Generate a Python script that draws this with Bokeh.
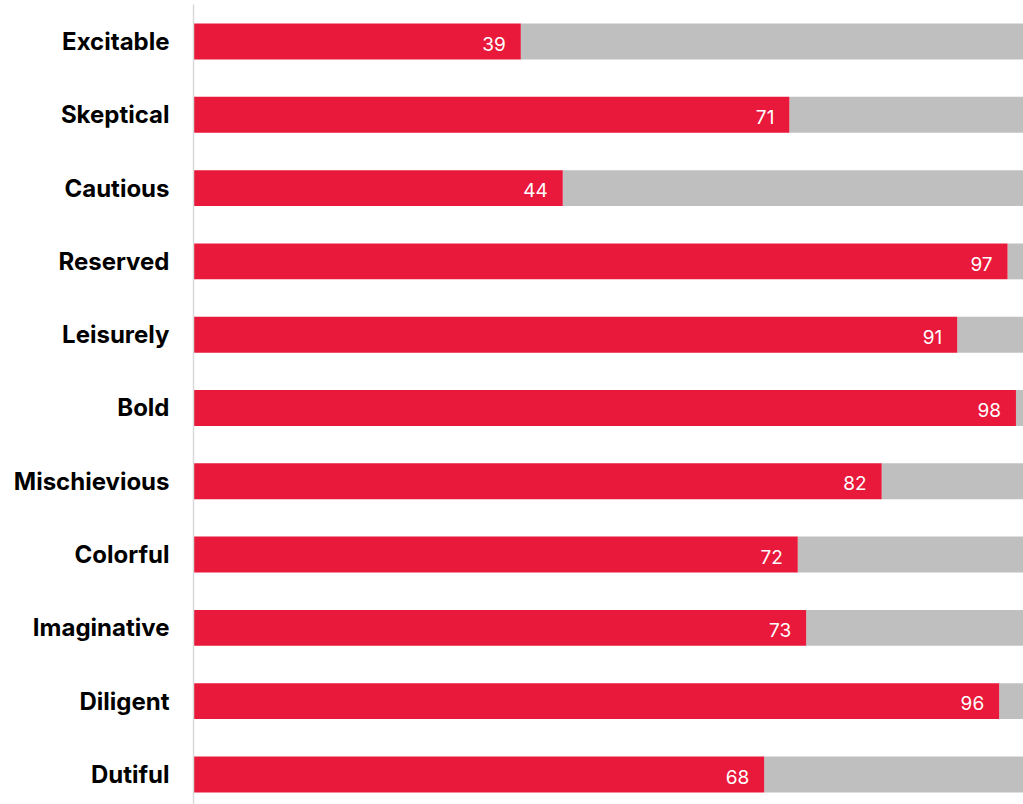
from bokeh.plotting import figure
from bokeh.models import ColumnDataSource, Range1d, FixedTicker
from bokeh.embed import file_html
from bokeh.resources import INLINE
from bokeh.core.properties import value

categories = ["Excitable", "Skeptical", "Cautious", "Reserved", "Leisurely", "Bold",
              "Mischievious", "Colorful", "Imaginative", "Diligent", "Dutiful"]
scores = [39, 71, 44, 97, 91, 98, 82, 72, 73, 96, 68]
total = 100

n = len(categories)
ypos = [n - 1 - i for i in range(n)]

src = ColumnDataSource(dict(y=ypos, score=scores, total=[total] * n,
                            label=[str(s) for s in scores],
                            ylab=[y - 0.03 for y in ypos]))

p = figure(width=1023, height=804, output_backend="svg", toolbar_location=None,
           x_range=Range1d(0, 98.9), y_range=Range1d(-0.41, 10.505),
           min_border_left=193, min_border_right=0, min_border_top=4, min_border_bottom=0)

p.hbar(y="y", left="score", right="total", height=0.49, color="#BFBFBF", line_color=None, source=src)
p.hbar(y="y", left=0, right="score", height=0.49, color="#E8193A", line_color=None, source=src)

p.text(x="score", y="ylab", text="label", source=src, x_offset=-15,
       text_align="right", text_baseline="middle", text_color="white",
       text_font=value("Inter"), text_font_size="19px")

p.xaxis.visible = False
p.grid.visible = False
p.outline_line_color = None

ya = p.yaxis[0]
ya.ticker = FixedTicker(ticks=ypos)
ya.major_label_overrides = {y: c for y, c in zip(ypos, categories)}
ya.major_tick_line_color = None
ya.minor_tick_line_color = None
ya.major_tick_out = 0
ya.major_tick_in = 0
ya.major_label_standoff = 24
ya.axis_line_color = "#D9D9D9"
ya.axis_line_width = 1.5
ya.major_label_text_font = "Inter"
ya.major_label_text_font_style = "bold"
ya.major_label_text_font_size = "24px"
ya.major_label_text_color = "black"

open("out.html", "w").write(file_html(p, INLINE))
